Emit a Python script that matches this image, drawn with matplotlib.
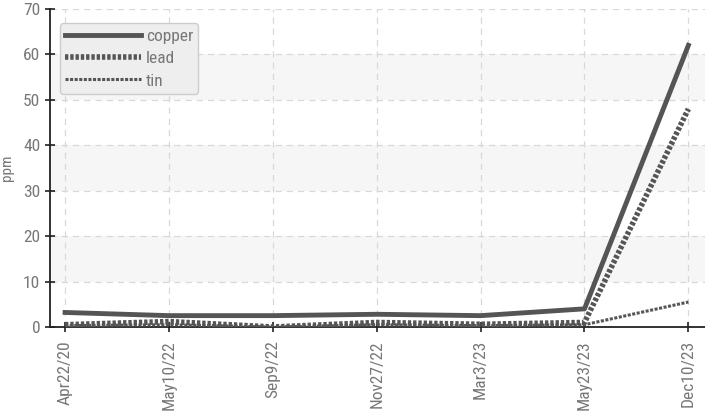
import matplotlib
matplotlib.use("Agg")
import matplotlib.pyplot as plt

dates = ["Apr22/20", "May10/22", "Sep9/22", "Nov27/22", "Mar3/23", "May23/23", "Dec10/23"]
copper = [3.2, 2.5, 2.5, 2.8, 2.5, 4.0, 62.0]
lead = [0.5, 1.2, 0.0, 1.0, 0.6, 1.0, 48.0]
tin = [0.3, 0.5, 0.0, 0.5, 0.3, 0.5, 5.5]
yticks = [0, 10, 20, 30, 40, 50, 60, 70]

plt.rcParams["font.family"] = ["Roboto Condensed", "DejaVu Sans"]

fig = plt.figure(figsize=(7.05, 4.11), dpi=100)
ax = fig.add_axes([50/705, 1-327/411, 655/705, 318/411])
x = list(range(len(dates)))
ax.set_xlim(-0.145, 6.16)
ax.set_ylim(0, 70)

for lo in (10, 30, 50):
    ax.axhspan(lo, lo + 10, color="#f6f6f6", zorder=0, lw=0)

ax.grid(True, color="#d8d8d8", linestyle=(0, (5, 4)), lw=0.9)
ax.set_axisbelow(True)

lc = "#555555"
ax.plot(x, copper, color=lc, lw=3.5, label="copper", zorder=3)
ax.plot(x, lead, color=lc, lw=4.0, linestyle=(0, (0.6, 0.35)), label="lead", zorder=3)
ax.plot(x, tin, color=lc, lw=2.2, linestyle=(0, (1, 0.5)), label="tin", zorder=3)

ax.set_xticks(x)
ax.set_xticklabels(dates, rotation=90)
ax.set_yticks(yticks)
for s in ("top", "right"):
    ax.spines[s].set_visible(False)
for s in ("left", "bottom"):
    ax.spines[s].set_color("#222222")
    ax.spines[s].set_linewidth(1.3)
ax.tick_params(axis="both", direction="inout", length=7, width=1.2, color="#222222",
               labelcolor="#777777", labelsize=12.5)
ax.tick_params(axis="x", pad=6)
ax.set_ylabel("ppm", color="#777777", fontsize=11)
ax.yaxis.set_label_coords(-0.055, 0.5)

leg = ax.legend(loc="upper left", bbox_to_anchor=(0.015, 0.955), handlelength=4.4,
                handletextpad=0.25, labelspacing=0.42, fontsize=12.5, borderpad=0.3,
                borderaxespad=0, fancybox=True, framealpha=1)
leg.get_frame().set_facecolor("#eeeeee")
leg.get_frame().set_edgecolor("#cccccc")
for t in leg.get_texts():
    t.set_color("#777777")

fig.savefig("out.png", dpi=100)
